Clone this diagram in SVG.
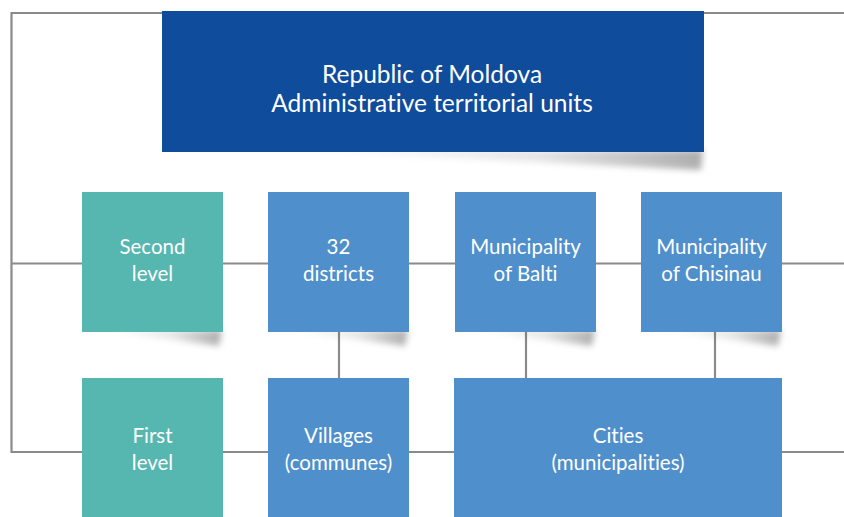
<svg xmlns="http://www.w3.org/2000/svg" width="844" height="517" viewBox="0 0 844 517">
  <style>
    .link { stroke: #8a8a8a; stroke-width: 2.2; fill: none; }
    .top { fill: #0f4c9b; }
    .unit { fill: #4f8fcb; }
    .level { fill: #56b6b0; }
    .shadow { fill: url(#shadeGrad); filter: url(#soft); }
    text { font-family: Lato, "Liberation Sans", sans-serif; fill: #ffffff; text-anchor: middle; font-variant-ligatures: none; }
    .title { font-size: 24.5px; }
    .label { font-size: 20.5px; }
  </style>
  <defs>
    <linearGradient id="shadeGrad" x1="0" y1="0" x2="1" y2="0">
      <stop offset="0" stop-color="#000" stop-opacity="0"/>
      <stop offset="0.6" stop-color="#000" stop-opacity="0.1"/>
      <stop offset="1" stop-color="#000" stop-opacity="0.32"/>
    </linearGradient>
    <filter id="soft" x="-10%" y="-100%" width="120%" height="300%">
      <feGaussianBlur stdDeviation="3"/>
    </filter>
  </defs>

  <!-- frame and connectors -->
  <g id="connectors">
    <polyline class="link" points="844,13 11.5,13 11.5,452 844,452"/>
    <line class="link" x1="11.5" y1="263.5" x2="844" y2="263.5"/>
    <line class="link" x1="339" y1="332" x2="339" y2="378"/>
    <line class="link" x1="526" y1="332" x2="526" y2="378"/>
    <line class="link" x1="715" y1="332" x2="715" y2="378"/>
  </g>

  <!-- drop shadows -->
  <g id="shadows">
    <path class="shadow" d="M290,150 L703,150 L701,170 Z"/>
    <path class="shadow" d="M100,330 L222,330 L219,346 Z"/>
    <path class="shadow" d="M286,330 L408,330 L405,346 Z"/>
    <path class="shadow" d="M473,330 L595,330 L592,346 Z"/>
    <path class="shadow" d="M659,330 L781,330 L778,346 Z"/>
  </g>

  <g id="republic">
    <rect class="top" x="162" y="11" width="542" height="141"/>
    <text class="title" x="432" y="83">Republic of Moldova</text>
    <text class="title" x="432" y="112">Administrative territorial units</text>
  </g>

  <g id="second-level">
    <rect class="level" x="82" y="192" width="141" height="140"/>
    <text class="label" x="152.5" y="254">Second</text>
    <text class="label" x="152.5" y="281">level</text>
  </g>

  <g id="districts">
    <rect class="unit" x="268" y="192" width="141" height="140"/>
    <text class="label" x="338.5" y="254">32</text>
    <text class="label" x="338.5" y="281">districts</text>
  </g>

  <g id="balti">
    <rect class="unit" x="455" y="192" width="141" height="140"/>
    <text class="label" x="525.5" y="254">Municipality</text>
    <text class="label" x="525.5" y="281">of Balti</text>
  </g>

  <g id="chisinau">
    <rect class="unit" x="641" y="192" width="141" height="140"/>
    <text class="label" x="711.5" y="254">Municipality</text>
    <text class="label" x="711.5" y="281">of Chisinau</text>
  </g>

  <g id="first-level">
    <rect class="level" x="82" y="378" width="141" height="139"/>
    <text class="label" x="152.5" y="443">First</text>
    <text class="label" x="152.5" y="470">level</text>
  </g>

  <g id="villages">
    <rect class="unit" x="268" y="378" width="141" height="139"/>
    <text class="label" x="338.5" y="443">Villages</text>
    <text class="label" x="338.5" y="470">(communes)</text>
  </g>

  <g id="cities">
    <rect class="unit" x="454" y="378" width="328" height="139"/>
    <text class="label" x="618" y="443">Cities</text>
    <text class="label" x="618" y="470">(municipalities)</text>
  </g>
</svg>
